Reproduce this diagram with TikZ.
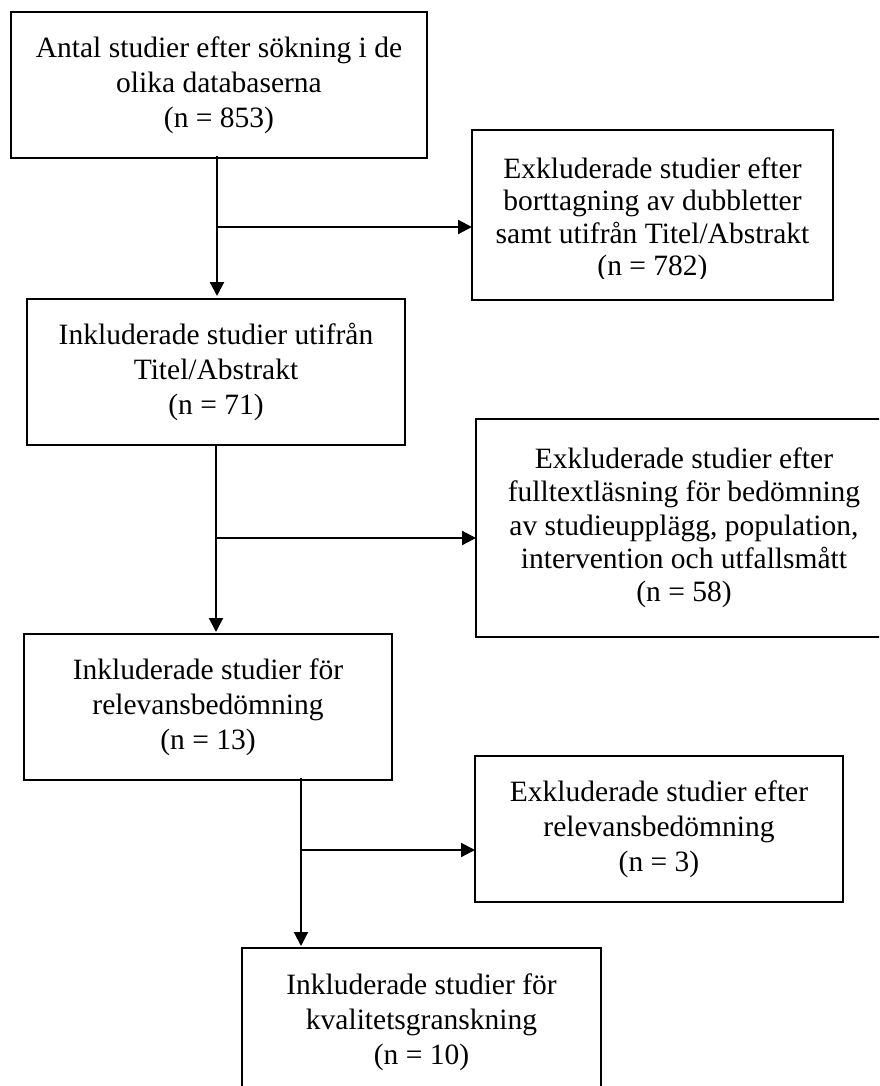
\documentclass[tikz,border=0pt]{standalone}
\usepackage{fontspec}
\setmainfont{Liberation Serif}
\usetikzlibrary{arrows.meta}
\begin{document}
\begin{tikzpicture}[x=1pt,y=-1pt,
  boxstyle/.style={draw=black, line width=1.5pt, align=center, inner sep=0pt,
    font=\fontsize{29.5}{35}\selectfont},
  conn/.style={line width=2.1pt, -{Triangle[length=14pt,width=14pt]}}]
\useasboundingbox (0,0) rectangle (879,1086);
\clip (0,0) rectangle (879,1086);
\fill[white] (0,0) rectangle (879,1086);

\node[boxstyle, minimum width=416pt, minimum height=146pt] (box1) at (219,85)
  {Antal studier efter sökning i de\\olika databaserna\\(n = 853)};

\begin{scope}
  \clip (472,130) rectangle (833,278);
  \node[boxstyle, draw=none, minimum width=361pt, minimum height=170pt,
    font=\fontsize{29.5}{32.5}\selectfont] (box2) at (652.5,220)
    {Exkluderade studier efter\\borttagning av dubbletter\\samt utifrån Titel/Abstrakt\\(n = 782)};
\end{scope}
\draw[line width=1.5pt] (472,130) rectangle (833,300);

\node[boxstyle, minimum width=378pt, minimum height=146pt] (box3) at (216,372)
  {Inkluderade studier utifrån\\Titel/Abstrakt\\(n = 71)};

\node[boxstyle, minimum width=416pt, minimum height=218pt,
  font=\fontsize{29.5}{33.3}\selectfont] (box4) at (684,528)
  {Exkluderade studier efter\\fulltextläsning för bedömning\\av studieupplägg, population,\\intervention och utfallsmått\\(n = 58)};

\node[boxstyle, minimum width=368pt, minimum height=146pt] (box5) at (208,707)
  {Inkluderade studier för\\relevansbedömning\\(n = 13)};

\node[boxstyle, minimum width=368pt, minimum height=146pt] (box6) at (659,829)
  {Exkluderade studier efter\\relevansbedömning\\(n = 3)};

\node[boxstyle, minimum width=359pt, minimum height=148pt] (box7) at (421.5,1022)
  {Inkluderade studier för\\kvalitetsgranskning\\(n = 10)};

% connectors
\coordinate (t1) at (217,156);
\coordinate (e1) at (217,296);
\coordinate (b1) at (216,227);
\coordinate (f1) at (472,227);
\draw[conn] (t1) -- (e1);
\draw[conn] (b1) -- (f1);

\coordinate (t2) at (216,445);
\coordinate (e2) at (216,632);
\coordinate (b2) at (215,538);
\coordinate (f2) at (476,538);
\draw[conn] (t2) -- (e2);
\draw[conn] (b2) -- (f2);

\coordinate (t3) at (301,778);
\coordinate (e3) at (301,946);
\coordinate (b3) at (300,850);
\coordinate (f3) at (475,850);
\draw[conn] (t3) -- (e3);
\draw[conn] (b3) -- (f3);
\end{tikzpicture}
\end{document}
